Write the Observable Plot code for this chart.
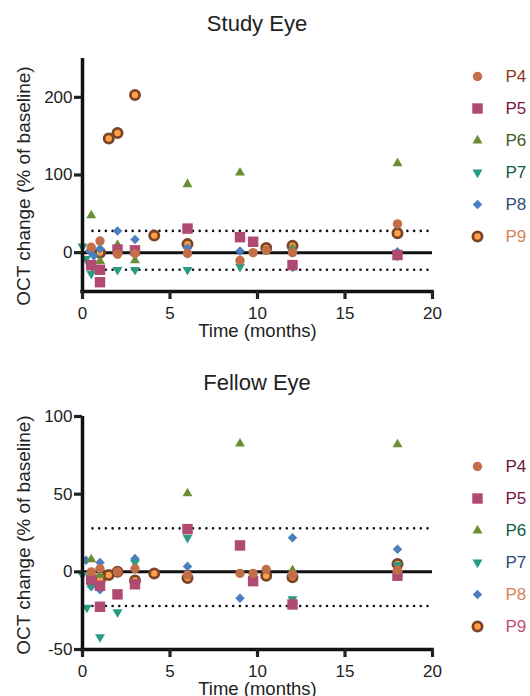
<!DOCTYPE html>
<html>
<head>
<meta charset="utf-8">
<script src="https://cdn.jsdelivr.net/npm/d3@7"></script>
<script src="https://cdn.jsdelivr.net/npm/@observablehq/plot@0.6"></script>
<style>
  html, body { margin: 0; padding: 0; background: #fff; }
  #root { position: relative; width: 530px; height: 696px; overflow: hidden; font-family: "Liberation Sans", Arial, sans-serif; color: #222; }
  .abs { position: absolute; }
  .title { position: absolute; left: 82px; width: 350px; text-align: center; font-size: 22px; color: #222; line-height: 1; }
</style>
</head>
<body>
<div id="root"></div>
<script>
// ---------- data ----------
const seriesNames = ["P4", "P5", "P6", "P7", "P8", "P9"];
const xTicks = [0, 5, 10, 15, 20];
const studyYTicks = [0, 100, 200];
const fellowYTicks = [-50, 0, 50, 100];
const upperLimit = 28;
const lowerLimit = -22;

// Study eye: [time (months), OCT change (%)]
const studyP4 = [[0.5, 7], [1, 15], [2, -2], [3, -1], [6, -1], [9, -10], [9.75, 0], [10.5, 3], [12, 0], [18, 37]];
const studyP5 = [[0.5, -16], [1, -22], [1, -38], [2, 4], [3, 3], [6, 31], [9, 20], [9.75, 14], [12, -16], [18, -3]];
const studyP6 = [[0.5, 48], [1, -11], [2, 10], [3, -10], [6, 88], [9, 103], [12, 5], [18, 115]];
const studyP7 = [[0, 8], [0.2, -8], [0.5, -27], [1, -20], [2, -22], [3, -22], [6, -22], [9, -18], [12, -18], [18, -4]];
const studyP8 = [[0.4, 2], [0.65, -4], [1, 5], [2, 28], [3, 17], [6, 6], [9, 2], [12, 5], [18, 1]];
const studyP9 = [[1, 0], [1.5, 147], [2, 154], [3, 203], [4.1, 22], [6, 11], [10.5, 6], [12, 9], [18, 25]];

// Fellow eye
const fellowP4 = [[0.5, 0], [1, 2], [2, 0], [3, 2], [6, -2], [9, -1], [9.75, -1], [10.5, 1.5], [12, -2], [18, 1]];
const fellowP5 = [[0.5, -5], [1, -9], [1, -22.5], [2, -14.5], [3, -8], [6, 27.5], [9, 17], [9.75, -6], [12, -21], [18, -2.5]];
const fellowP6 = [[0.5, 8], [1, -2], [6, 50.5], [9, 82.5], [12, 1], [18, 82]];
const fellowP7 = [[0, -2], [0.25, -23], [0.5, -9], [1, -42], [2, -26], [3, 6], [6, 22], [12, -17.5], [18, 4.5]];
const fellowP8 = [[0.2, 7.5], [0.5, -9.5], [1, 6], [1, -11.5], [2, 0], [3, 8.5], [6, 3.5], [9, -17], [12, 22], [18, 14.5]];
const fellowP9 = [[1, -5], [1.5, -2], [2, 0], [3, -5.5], [4.1, -1], [6, -4], [10.5, -2.5], [12, -3.5], [18, 5]];

const studyLegendColors = ["#8b3a20", "#7a1545", "#3d5a26", "#0d5c47", "#2e4d7a", "#d9825a"];
const fellowLegendColors = ["#6b1a3a", "#7a1545", "#0d5c47", "#2e4d7a", "#d9825a", "#c0507a"];

// ---------- styles ----------
const triangleDown = {
  draw(context, size) {
    const y = Math.sqrt(size / (Math.sqrt(3) * 3));
    context.moveTo(0, y * 2);
    context.lineTo(-Math.sqrt(3) * y, -y);
    context.lineTo(Math.sqrt(3) * y, -y);
    context.closePath();
  }
};
const markerStyle = {
  P4: {symbol: "circle", fill: "#c26e48", r: 4.7},
  P5: {symbol: "square", fill: "#b14a72", r: 5.9},
  P6: {symbol: "triangle", fill: "#6b8e35", r: 3.7},
  P7: {symbol: triangleDown, fill: "#2b9a82", r: 3.7},
  P8: {symbol: "diamond2", fill: "#4b80c0", r: 4.3},
  P9: {symbol: "circle", fill: "#ffa048", stroke: "#7b4427", strokeWidth: 2.8, r: 4.6}
};

const root = document.getElementById("root");

function makePanel({series, yDomain, yTicks, top, height, marginTop, marginBottom, title, titleTop, legendColors, legendTop, legendRange, ylabelDy}) {
  const t = document.createElement("div");
  t.className = "title";
  t.style.top = titleTop + "px";
  t.textContent = title;
  root.appendChild(t);

  const order = ["P9", "P8", "P7", "P6", "P5", "P4"];
  const dotMarks = order.map(name => {
    const s = markerStyle[name];
    return Plot.dot(series[name], {x: d => d[0], y: d => d[1], ...s});
  });

  const chart = Plot.plot({
    width: 530,
    height,
    marginLeft: 82,
    marginRight: 98,
    marginTop,
    marginBottom,
    style: {fontFamily: "'Liberation Sans', Arial, sans-serif", color: "#222", background: "transparent", overflow: "visible"},
    x: {domain: [0, 20]},
    y: {domain: yDomain},
    marks: [
      Plot.ruleY([upperLimit, lowerLimit], {x1: 0.6, x2: 19.8, stroke: "#111", strokeWidth: 2.6, strokeDasharray: "0,6.7", strokeLinecap: "round"}),
      Plot.ruleY([0], {x1: 0, x2: 20, stroke: "#111", strokeWidth: 3}),
      ...dotMarks,
      Plot.ruleX([0], {y1: yDomain[0], y2: yDomain[1], stroke: "#111", strokeWidth: 3.5, strokeLinecap: "butt"}),
      Plot.ruleY([yDomain[0]], {x1: 0, x2: 20, stroke: "#111", strokeWidth: 3.5, strokeLinecap: "square"}),
      Plot.axisY({ticks: yTicks, tickSize: 8, tickPadding: 2, strokeWidth: 3.2, fontSize: 17, label: null, tickFormat: d => String(d)}),
      Plot.axisX({ticks: xTicks, tickSize: 8, tickPadding: 7, strokeWidth: 3.2, fontSize: 17, label: null}),
      Plot.text(["Time (months)"], {frameAnchor: "bottom", lineAnchor: "middle", textAnchor: "middle", dy: 40, fontSize: 18.5, fill: "#222"}),
      Plot.text(["OCT change (% of baseline)"], {frameAnchor: "left", textAnchor: "middle", lineAnchor: "middle", rotate: -90, dx: -59, dy: ylabelDy, fontSize: 19, fill: "#222"})
    ]
  });
  chart.classList.add("abs");
  chart.style.left = "0px";
  chart.style.top = top + "px";
  root.appendChild(chart);

  const legendMarks = seriesNames.map(name => {
    const s = markerStyle[name];
    return Plot.dot([name], {y: d => d, frameAnchor: "left", dx: 17, ...s});
  });
  const legend = Plot.plot({
    width: 70,
    height: 260,
    margin: 0,
    style: {fontFamily: "'Liberation Sans', Arial, sans-serif", background: "transparent", overflow: "visible"},
    y: {type: "point", domain: seriesNames, range: legendRange, padding: 0, axis: null},
    marks: [
      ...legendMarks,
      Plot.text(seriesNames, {y: d => d, frameAnchor: "left", dx: 45, textAnchor: "start", fontSize: 17, fill: (d, i) => legendColors[i]})
    ]
  });
  legend.classList.add("abs");
  legend.style.left = "460px";
  legend.style.top = legendTop + "px";
  root.appendChild(legend);
}

makePanel({
  series: {P4: studyP4, P5: studyP5, P6: studyP6, P7: studyP7, P8: studyP8, P9: studyP9},
  yDomain: [-50, 250], yTicks: studyYTicks,
  top: 0, height: 345, marginTop: 58, marginBottom: 54,
  title: "Study Eye", titleTop: 13,
  legendColors: studyLegendColors, legendTop: 0, legendRange: [74, 237], ylabelDy: 11
});

makePanel({
  series: {P4: fellowP4, P5: fellowP5, P6: fellowP6, P7: fellowP7, P8: fellowP8, P9: fellowP9},
  yDomain: [-50, 100], yTicks: fellowYTicks,
  top: 360, height: 336, marginTop: 56, marginBottom: 47,
  title: "Fellow Eye", titleTop: 372,
  legendColors: fellowLegendColors, legendTop: 400, legendRange: [64, 227], ylabelDy: 2
});
</script>
</body>
</html>
